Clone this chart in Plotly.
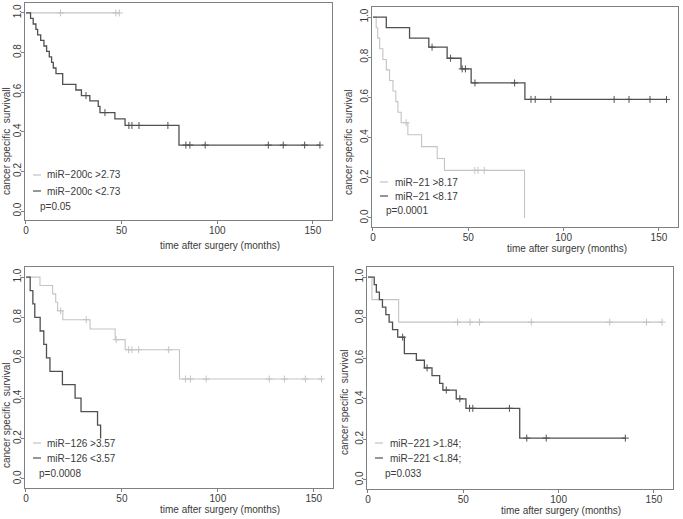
import plotly.graph_objects as go

W, H = 683, 519

# ---------------- data ----------------
x_ticks = [0, 50, 100, 150]
y_ticks = [0.0, 0.2, 0.4, 0.6, 0.8, 1.0]
y_tick_labels = ["0.0", "0.2", "0.4", "0.6", "0.8", "1.0"]
x_title = "time after surgery (months)"

# Panel 1: miR-200c
p1_labels = ["miR\u2212200c >2.73", "miR\u2212200c <2.73"]
p1_pvalue = "p=0.05"
p1_ylabel = "cancer specific  survivall"
p1_hi_t = []
p1_hi_s = []
p1_hi_c = [18.1, 47.0, 48.8]
p1_lo_t = [2.4, 3.8, 5.2, 6.1, 7.7, 9.4, 10.8, 12.2, 13.4, 14.3, 15.7, 19.2, 26.1, 29.0,
           33.4, 37.8, 38.7, 46.5, 51.8, 80.0]
p1_lo_s = [0.972, 0.944, 0.917, 0.889, 0.861, 0.833, 0.806, 0.778, 0.750, 0.722, 0.694,
           0.639, 0.611, 0.583, 0.556, 0.528, 0.497, 0.465, 0.432, 0.333]
p1_lo_c = [31.4, 41.3, 53.8, 55.4, 59.1, 74.2, 83.6, 85.7, 93.7, 126.7, 134.5, 145.7, 153.7]

# Panel 2: miR-21
p2_labels = ["miR\u221221 >8.17", "miR\u221221 <8.17"]
p2_pvalue = "p=0.0001"
p2_ylabel = "cancer specific  survival"
p2_hi_t = [1.7, 2.5, 3.5, 5.2, 7.0, 8.7, 10.5, 12.0, 13.1, 14.8, 18.3, 25.5, 33.7, 37.5, 79.5]
p2_hi_s = [0.947, 0.895, 0.842, 0.789, 0.737, 0.684, 0.632, 0.579, 0.526, 0.474, 0.414,
           0.355, 0.296, 0.237, 0.0]
p2_hi_c = [17.4, 53.4, 55.1, 58.4]
p2_lo_t = [7.0, 19.2, 29.3, 38.9, 46.2, 51.5, 79.7]
p2_lo_s = [0.947, 0.895, 0.850, 0.795, 0.742, 0.672, 0.590]
p2_lo_c = [31.0, 40.7, 46.8, 48.5, 53.5, 74.3, 82.9, 85.1, 93.3, 126.5, 134.3, 145.3, 154.0]

# Panel 3: miR-126
p3_labels = ["miR\u2212126 >3.57", "miR\u2212126 <3.57"]
p3_pvalue = "p=0.0008"
p3_ylabel = "cancer specific  survival"
p3_hi_t = [7.3, 13.9, 15.5, 16.5, 19.2, 33.4, 46.5, 51.7, 80.0]
p3_hi_s = [0.958, 0.917, 0.875, 0.833, 0.789, 0.743, 0.690, 0.640, 0.495]
p3_hi_c = [18.1, 31.4, 47.0, 53.5, 55.2, 58.7, 74.4, 83.1, 85.7, 93.9, 126.8, 134.7, 145.6, 154.0]
p3_lo_t = [2.2, 3.6, 4.6, 7.4, 9.3, 10.7, 12.5, 19.0, 25.6, 28.7, 37.3, 38.9]
p3_lo_s = [0.933, 0.867, 0.800, 0.733, 0.667, 0.600, 0.533, 0.467, 0.400, 0.333, 0.267, 0.200]
p3_lo_c = []

# Panel 4: miR-221
p4_labels = ["miR\u2212221 >1.84;", "miR\u2212221 <1.84;"]
p4_pvalue = "p=0.033"
p4_ylabel = "cancer specific  survival"
p4_hi_t = [2.1, 16.1]
p4_hi_s = [0.889, 0.778]
p4_hi_c = [47.0, 53.6, 58.5, 85.7, 126.8, 146.1, 154.3]
p4_lo_t = [3.3, 4.4, 6.0, 7.6, 9.4, 11.1, 12.9, 15.6, 19.1, 25.4, 29.6, 33.6, 37.6, 39.3,
           46.3, 51.4, 79.6]
p4_lo_s = [0.963, 0.926, 0.889, 0.852, 0.815, 0.778, 0.741, 0.704, 0.623, 0.590, 0.552,
           0.514, 0.476, 0.443, 0.400, 0.353, 0.206]
p4_lo_c = [18.2, 31.0, 41.1, 48.2, 53.3, 55.0, 74.2, 83.3, 93.5, 135.0]

# ---------------- styling / layout ----------------
LIGHT = "#c4c4c4"
DARK = "#505050"
TXT = "#3a3a3a"
FONT = "Liberation Sans, Arial, sans-serif"


def fx(p):
    return p / W


def fy(p):
    return 1 - p / H


panels = [
    dict(box=(25, 332, 3, 220),
         hi=(p1_hi_t, p1_hi_s, p1_hi_c), lo=(p1_lo_t, p1_lo_s, p1_lo_c),
         labels=p1_labels, p=p1_pvalue, ylab=p1_ylabel,
         xt=(220, 245), yt=(6, 141), leg=(33, 41, 45, 38, 175, 191, 206)),
    dict(box=(372, 678, 7, 227),
         hi=(p2_hi_t, p2_hi_s, p2_hi_c), lo=(p2_lo_t, p2_lo_s, p2_lo_c),
         labels=p2_labels, p=p2_pvalue, ylab=p2_ylabel,
         xt=(567, 249), yt=(348, 142), leg=(380, 388, 393, 384, 182, 196, 210)),
    dict(box=(25, 333, 267, 488),
         hi=(p3_hi_t, p3_hi_s, p3_hi_c), lo=(p3_lo_t, p3_lo_s, p3_lo_c),
         labels=p3_labels, p=p3_pvalue, ylab=p3_ylabel,
         xt=(220, 509), yt=(6, 415), leg=(33, 41, 45, 37, 443, 458, 473)),
    dict(box=(367, 673, 267, 489),
         hi=(p4_hi_t, p4_hi_s, p4_hi_c), lo=(p4_lo_t, p4_lo_s, p4_lo_c),
         labels=p4_labels, p=p4_pvalue, ylab=p4_ylabel,
         xt=(561, 510), yt=(344, 402), leg=(375, 383, 388, 383, 443, 458, 473)),
]


def step_xy(ts, ss, cs):
    xs = [0.0] + list(ts)
    ys = [1.0] + list(ss)
    end = max(list(ts) + list(cs))
    if end > xs[-1]:
        xs.append(end)
        ys.append(ys[-1])
    return xs, ys


def surv_at(ts, ss, t):
    v = 1.0
    for ti, si in zip(ts, ss):
        if ti <= t:
            v = si
    return v


fig = go.Figure()
annotations = []
shapes = []
layout_axes = {}

for i, pnl in enumerate(panels, start=1):
    xa = "x" if i == 1 else f"x{i}"
    ya = "y" if i == 1 else f"y{i}"
    for grp, col, w in (("hi", LIGHT, 1.1), ("lo", DARK, 1.3)):
        ts, ss, cs = pnl[grp]
        xs, ys = step_xy(ts, ss, cs)
        fig.add_trace(go.Scatter(x=xs, y=ys, mode="lines", line=dict(color=col, width=w, shape="hv"),
                                 xaxis=xa, yaxis=ya, showlegend=False, hoverinfo="skip"))
        if cs:
            fig.add_trace(go.Scatter(x=cs, y=[surv_at(ts, ss, c) for c in cs], mode="markers",
                                     marker=dict(symbol="cross-thin-open", size=5, color=col,
                                                 line=dict(color=col, width=1)),
                                     xaxis=xa, yaxis=ya, showlegend=False, hoverinfo="skip"))
    l, r, t, b = pnl["box"]
    axcommon = dict(showline=True, mirror=True, linecolor="#808080", linewidth=1,
                    ticks="outside", ticklen=3, tickcolor="#808080", showgrid=False,
                    zeroline=False, automargin=False,
                    tickfont=dict(family=FONT, size=10, color=TXT))
    layout_axes["xaxis" if i == 1 else f"xaxis{i}"] = dict(
        domain=[fx(l), fx(r)], anchor=ya, range=[-0.5, 160], tickvals=x_ticks,
        ticklabelstandoff=-2, **axcommon)
    layout_axes["yaxis" if i == 1 else f"yaxis{i}"] = dict(
        domain=[fy(b), fy(t)], anchor=xa, range=[-0.045, 1.05], tickvals=y_ticks,
        ticktext=y_tick_labels, tickangle=-90, ticklabelstandoff=-4, **axcommon)

    # axis titles
    annotations.append(dict(x=fx(pnl["xt"][0]), y=fy(pnl["xt"][1]), xref="paper", yref="paper",
                            text=x_title, showarrow=False, xanchor="center", yanchor="middle",
                            font=dict(family=FONT, size=10, color=TXT)))
    annotations.append(dict(x=fx(pnl["yt"][0]), y=fy(pnl["yt"][1]), xref="paper", yref="paper",
                            text=pnl["ylab"], showarrow=False, textangle=-90,
                            xanchor="center", yanchor="middle",
                            font=dict(family=FONT, size=10, color=TXT)))
    # legend
    lx0, lx1, tx, pxp, r1, r2, r3 = pnl["leg"]
    for (row, col, lab) in ((r1, LIGHT, pnl["labels"][0]), (r2, DARK, pnl["labels"][1])):
        shapes.append(dict(type="line", xref="paper", yref="paper", x0=fx(lx0), x1=fx(lx1),
                           y0=fy(row), y1=fy(row), line=dict(color=col, width=1.2)))
        annotations.append(dict(x=fx(tx), y=fy(row), xref="paper", yref="paper", text=lab,
                                showarrow=False, xanchor="left", yanchor="middle",
                                font=dict(family=FONT, size=10, color=TXT)))
    annotations.append(dict(x=fx(pxp), y=fy(r3), xref="paper", yref="paper", text=pnl["p"],
                            showarrow=False, xanchor="left", yanchor="middle",
                            font=dict(family=FONT, size=10, color=TXT)))

fig.update_layout(width=W, height=H, margin=dict(l=0, r=0, t=0, b=0),
                  paper_bgcolor="white", plot_bgcolor="white",
                  annotations=annotations, shapes=shapes, **layout_axes)

fig.write_html("out.html", config={"displayModeBar": False},
               post_script="document.body.style.margin='0px';document.body.style.padding='0px';"
                           "document.body.style.overflow='hidden';")
